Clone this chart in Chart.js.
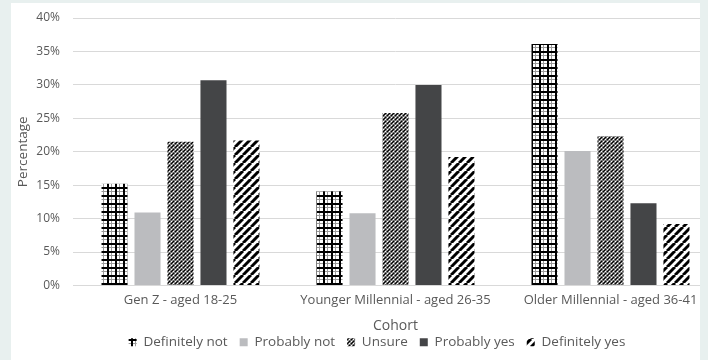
<!DOCTYPE html>
<html lang="en">
<head>
  <meta charset="UTF-8">
  <title>Cohort chart</title>
  <script src="https://cdn.jsdelivr.net/npm/chart.js@4.4.0/dist/chart.umd.min.js"></script>
  <style>
    body { margin: 0; background: #e8f0ef; width: 708px; height: 360px; overflow: hidden; }
    .painel { position: absolute; left: 11px; top: 3px; width: 689px; height: 357px; background: #fff; overflow: hidden; }
  </style>
</head>
<body>
  <div class="painel">
    <canvas id="grafico" width="730" height="356"></canvas>
  </div>

<script>
  // dados
  var cohorts = ["Gen Z - aged 18-25", "Younger Millennial - aged 26-35", "Older Millennial - aged 36-41"];
  var definitelyNot = [15.2, 14.1, 36.1];
  var probablyNot = [10.9, 10.8, 20.1];
  var unsure = [21.5, 25.8, 22.3];
  var probablyYes = [30.7, 30.0, 12.3];
  var definitelyYes = [21.7, 19.2, 9.2];
  var yTicks = [0, 5, 10, 15, 20, 25, 30, 35, 40];

  // padroes de preenchimento
  function tile(size, draw) {
    let c = document.createElement('canvas');
    c.width = size; c.height = size;
    let g = c.getContext('2d');
    draw(g, size);
    return document.createElement('canvas').getContext('2d').createPattern(c, 'repeat');
  }

  var grade = tile(8, function (g, s) {
    g.fillStyle = '#fff'; g.fillRect(0, 0, s, s);
    g.fillStyle = '#999';
    g.fillRect(4, 0, 1, s); g.fillRect(0, 4, s, 1);
    g.fillStyle = '#000';
    g.fillRect(0, 0, 2, s); g.fillRect(0, 0, s, 2);
  });

  var xadrez = tile(4, function (g, s) {
    g.fillStyle = '#6a6a6a'; g.fillRect(0, 0, s, s);
    g.fillStyle = '#000';
    g.fillRect(0, 0, 1, 1); g.fillRect(2, 2, 1, 1); g.fillRect(1, 3, 1, 1);
    g.fillStyle = '#fff';
    g.fillRect(2, 0, 1, 1); g.fillRect(0, 2, 1, 1);
    g.fillStyle = '#aaa';
    g.fillRect(1, 1, 1, 1); g.fillRect(3, 3, 1, 1);
  });

  var listras = tile(8, function (g, s) {
    g.fillStyle = '#fff'; g.fillRect(0, 0, s, s);
    g.strokeStyle = '#000'; g.lineWidth = 3;
    for (let k = -1; k <= 1; k++) {
      g.beginPath();
      g.moveTo(k * s, s);
      g.lineTo(k * s + s, 0);
      g.stroke();
    }
  });

  var cinza = '#595959';
  var fonte = "'Open Sans', 'DejaVu Sans', sans-serif";

  let ctx = document.getElementById('grafico').getContext('2d');
  let grafico = new Chart(ctx, {
    type: 'bar',
    data: {
      labels: cohorts,
      datasets: [
        { label: 'Definitely not', data: definitelyNot, backgroundColor: grade },
        { label: 'Probably not', data: probablyNot, backgroundColor: '#bbbcbf' },
        { label: 'Unsure', data: unsure, backgroundColor: xadrez },
        { label: 'Probably yes', data: probablyYes, backgroundColor: '#444547' },
        { label: 'Definitely yes', data: definitelyYes, backgroundColor: listras }
      ]
    },
    options: {
      responsive: false,
      animation: false,
      layout: { padding: { top: 15, right: 23, bottom: 0, left: 25 } },
      datasets: { bar: { categoryPercentage: 0.767, barPercentage: 0.79 } },
      plugins: {
        tooltip: { enabled: false },
        legend: {
          position: 'bottom',
          labels: {
            color: cinza,
            font: { family: fonte, size: 13.5 },
            boxWidth: 8, boxHeight: 8, padding: 12
          }
        }
      },
      scales: {
        x: {
          grid: { display: false, drawTicks: false },
          border: { color: '#d9d9d9' },
          ticks: { color: cinza, font: { family: fonte, size: 13 }, padding: 7 },
          title: { display: true, text: 'Cohort', color: cinza, font: { family: fonte, size: 14 }, padding: { top: 0, bottom: -11.4 } },
          afterFit: function (s) { s.height = 38; }
        },
        y: {
          min: 0, max: 40,
          afterBuildTicks: function (s) { s.ticks = yTicks.map(v => ({ value: v })); },
          grid: { color: '#d9d9d9', drawTicks: false },
          border: { display: false },
          ticks: { color: cinza, font: { family: fonte, size: 12 }, padding: 13, callback: v => v + '%' },
          title: { display: true, text: 'Percentage', color: cinza, font: { family: fonte, size: 13.5 }, padding: { top: -21, bottom: 0 } },
          afterFit: function (s) { s.width = 37; s.paddingTop = 0; s.paddingBottom = 0; }
        }
      }
    }
  });
</script>
</body>
</html>
